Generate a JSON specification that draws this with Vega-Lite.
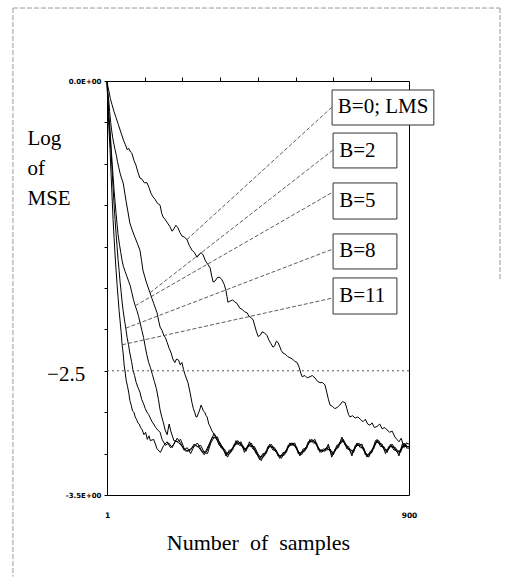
{
"$schema":"https://vega.github.io/schema/vega-lite/v6.json",
"width":302,"height":414,
"autosize":{"type":"none"},
"padding":{"left":107,"top":81,"right":115,"bottom":82},
"background":"white",
"config":{"view":{"stroke":"black","strokeWidth":1},"font":"Liberation Serif"},
"datasets":{
"curves":[
{"s":"B11","x":1,"y":0},{"s":"B11","x":4,"y":-0.25},{"s":"B11","x":7,"y":-0.42},{"s":"B11","x":10,"y":-0.58},{"s":"B11","x":13,"y":-0.78},{"s":"B11","x":16,"y":-0.97},{"s":"B11","x":19,"y":-1.17},{"s":"B11","x":22,"y":-1.32},{"s":"B11","x":25,"y":-1.47},{"s":"B11","x":28,"y":-1.60},{"s":"B11","x":31,"y":-1.72},{"s":"B11","x":34,"y":-1.83},{"s":"B11","x":37,"y":-1.94},{"s":"B11","x":40,"y":-2.03},{"s":"B11","x":43,"y":-2.12},{"s":"B11","x":46,"y":-2.23},{"s":"B11","x":49,"y":-2.30},{"s":"B11","x":52,"y":-2.40},{"s":"B11","x":55,"y":-2.46},{"s":"B11","x":58,"y":-2.53},{"s":"B11","x":62,"y":-2.58},{"s":"B11","x":66,"y":-2.64},{"s":"B11","x":69,"y":-2.70},{"s":"B11","x":73,"y":-2.74},{"s":"B11","x":77,"y":-2.79},{"s":"B11","x":81,"y":-2.80},{"s":"B11","x":85,"y":-2.84},{"s":"B11","x":89,"y":-2.86},{"s":"B11","x":93,"y":-2.89},{"s":"B11","x":97,"y":-2.90},{"s":"B11","x":101,"y":-2.93},{"s":"B11","x":106,"y":-2.95},{"s":"B11","x":111,"y":-2.99},{"s":"B11","x":116,"y":-2.97},{"s":"B11","x":121,"y":-3.03},{"s":"B11","x":126,"y":-3.00},{"s":"B11","x":130,"y":-3.04},
{"s":"B11","x":140,"y":-3.03},{"s":"B11","x":150,"y":-3.11},{"s":"B11","x":160,"y":-3.14},{"s":"B11","x":170,"y":-3.08},{"s":"B11","x":180,"y":-3.05},{"s":"B11","x":190,"y":-3.10},{"s":"B11","x":200,"y":-3.07},{"s":"B11","x":210,"y":-3.02},{"s":"B11","x":220,"y":-3.06},{"s":"B11","x":230,"y":-3.12},{"s":"B11","x":240,"y":-3.10},{"s":"B11","x":250,"y":-3.15},{"s":"B11","x":260,"y":-3.09},{"s":"B11","x":270,"y":-3.06},{"s":"B11","x":280,"y":-3.11},{"s":"B11","x":290,"y":-3.16},{"s":"B11","x":300,"y":-3.12},{"s":"B11","x":310,"y":-3.04},{"s":"B11","x":320,"y":-2.98},{"s":"B11","x":330,"y":-3.03},{"s":"B11","x":340,"y":-3.07},{"s":"B11","x":350,"y":-3.13},{"s":"B11","x":360,"y":-3.18},{"s":"B11","x":370,"y":-3.12},{"s":"B11","x":380,"y":-3.09},{"s":"B11","x":390,"y":-3.04},{"s":"B11","x":400,"y":-3.07},{"s":"B11","x":410,"y":-3.12},{"s":"B11","x":420,"y":-3.10},{"s":"B11","x":430,"y":-3.06},{"s":"B11","x":440,"y":-3.11},{"s":"B11","x":450,"y":-3.17},{"s":"B11","x":460,"y":-3.21},{"s":"B11","x":470,"y":-3.15},{"s":"B11","x":480,"y":-3.11},{"s":"B11","x":490,"y":-3.07},{"s":"B11","x":500,"y":-3.12},{"s":"B11","x":510,"y":-3.15},{"s":"B11","x":520,"y":-3.19},{"s":"B11","x":530,"y":-3.14},{"s":"B11","x":540,"y":-3.10},{"s":"B11","x":550,"y":-3.06},{"s":"B11","x":560,"y":-3.08},{"s":"B11","x":570,"y":-3.13},{"s":"B11","x":580,"y":-3.16},{"s":"B11","x":590,"y":-3.11},{"s":"B11","x":600,"y":-3.07},{"s":"B11","x":610,"y":-3.03},{"s":"B11","x":620,"y":-3.05},{"s":"B11","x":630,"y":-3.10},{"s":"B11","x":640,"y":-3.14},{"s":"B11","x":650,"y":-3.11},{"s":"B11","x":660,"y":-3.09},{"s":"B11","x":670,"y":-3.16},{"s":"B11","x":680,"y":-3.13},{"s":"B11","x":690,"y":-3.08},{"s":"B11","x":700,"y":-3.03},{"s":"B11","x":710,"y":-3.06},{"s":"B11","x":720,"y":-3.11},{"s":"B11","x":730,"y":-3.15},{"s":"B11","x":740,"y":-3.10},{"s":"B11","x":750,"y":-3.06},{"s":"B11","x":760,"y":-3.09},{"s":"B11","x":770,"y":-3.14},{"s":"B11","x":780,"y":-3.18},{"s":"B11","x":790,"y":-3.12},{"s":"B11","x":800,"y":-3.06},{"s":"B11","x":810,"y":-3.04},{"s":"B11","x":820,"y":-3.09},{"s":"B11","x":830,"y":-3.13},{"s":"B11","x":840,"y":-3.11},{"s":"B11","x":850,"y":-3.07},{"s":"B11","x":860,"y":-3.12},{"s":"B11","x":870,"y":-3.15},{"s":"B11","x":880,"y":-3.09},{"s":"B11","x":890,"y":-3.07},{"s":"B11","x":900,"y":-3.11},
{"s":"B8","x":1,"y":0},{"s":"B8","x":3,"y":-0.14},{"s":"B8","x":6,"y":-0.30},{"s":"B8","x":9,"y":-0.43},{"s":"B8","x":13,"y":-0.58},{"s":"B8","x":16,"y":-0.75},{"s":"B8","x":19,"y":-0.90},{"s":"B8","x":22,"y":-1.04},{"s":"B8","x":25,"y":-1.17},{"s":"B8","x":28,"y":-1.29},{"s":"B8","x":31,"y":-1.40},{"s":"B8","x":34,"y":-1.51},{"s":"B8","x":37,"y":-1.60},{"s":"B8","x":40,"y":-1.70},{"s":"B8","x":43,"y":-1.78},{"s":"B8","x":46,"y":-1.87},{"s":"B8","x":49,"y":-1.94},{"s":"B8","x":53,"y":-2.02},{"s":"B8","x":57,"y":-2.09},{"s":"B8","x":61,"y":-2.17},{"s":"B8","x":65,"y":-2.23},{"s":"B8","x":69,"y":-2.30},{"s":"B8","x":74,"y":-2.37},{"s":"B8","x":78,"y":-2.44},{"s":"B8","x":83,"y":-2.49},{"s":"B8","x":88,"y":-2.55},{"s":"B8","x":93,"y":-2.59},{"s":"B8","x":99,"y":-2.63},{"s":"B8","x":104,"y":-2.69},{"s":"B8","x":110,"y":-2.73},{"s":"B8","x":115,"y":-2.77},{"s":"B8","x":120,"y":-2.80},{"s":"B8","x":125,"y":-2.82},{"s":"B8","x":130,"y":-2.85},{"s":"B8","x":135,"y":-2.88},{"s":"B8","x":140,"y":-2.90},{"s":"B8","x":146,"y":-2.93},{"s":"B8","x":152,"y":-2.95},{"s":"B8","x":159,"y":-2.97},
{"s":"B8","x":165,"y":-3.03},{"s":"B8","x":175,"y":-3.08},{"s":"B8","x":185,"y":-3.06},{"s":"B8","x":195,"y":-3.10},{"s":"B8","x":205,"y":-3.04},{"s":"B8","x":215,"y":-3.06},{"s":"B8","x":225,"y":-3.09},{"s":"B8","x":235,"y":-3.13},{"s":"B8","x":245,"y":-3.12},{"s":"B8","x":255,"y":-3.10},{"s":"B8","x":265,"y":-3.08},{"s":"B8","x":275,"y":-3.10},{"s":"B8","x":285,"y":-3.14},{"s":"B8","x":295,"y":-3.13},{"s":"B8","x":305,"y":-3.07},{"s":"B8","x":315,"y":-3.01},{"s":"B8","x":325,"y":-3.02},{"s":"B8","x":335,"y":-3.06},{"s":"B8","x":345,"y":-3.11},{"s":"B8","x":355,"y":-3.15},{"s":"B8","x":365,"y":-3.14},{"s":"B8","x":375,"y":-3.10},{"s":"B8","x":385,"y":-3.06},{"s":"B8","x":395,"y":-3.06},{"s":"B8","x":405,"y":-3.10},{"s":"B8","x":415,"y":-3.11},{"s":"B8","x":425,"y":-3.07},{"s":"B8","x":435,"y":-3.09},{"s":"B8","x":445,"y":-3.15},{"s":"B8","x":455,"y":-3.18},{"s":"B8","x":465,"y":-3.17},{"s":"B8","x":475,"y":-3.13},{"s":"B8","x":485,"y":-3.09},{"s":"B8","x":495,"y":-3.10},{"s":"B8","x":505,"y":-3.14},{"s":"B8","x":515,"y":-3.17},{"s":"B8","x":525,"y":-3.16},{"s":"B8","x":535,"y":-3.12},{"s":"B8","x":545,"y":-3.08},{"s":"B8","x":555,"y":-3.06},{"s":"B8","x":565,"y":-3.11},{"s":"B8","x":575,"y":-3.15},{"s":"B8","x":585,"y":-3.13},{"s":"B8","x":595,"y":-3.09},{"s":"B8","x":605,"y":-3.05},{"s":"B8","x":615,"y":-3.04},{"s":"B8","x":625,"y":-3.08},{"s":"B8","x":635,"y":-3.12},{"s":"B8","x":645,"y":-3.13},{"s":"B8","x":655,"y":-3.10},{"s":"B8","x":665,"y":-3.13},{"s":"B8","x":675,"y":-3.14},{"s":"B8","x":685,"y":-3.10},{"s":"B8","x":695,"y":-3.05},{"s":"B8","x":705,"y":-3.05},{"s":"B8","x":715,"y":-3.09},{"s":"B8","x":725,"y":-3.13},{"s":"B8","x":735,"y":-3.12},{"s":"B8","x":745,"y":-3.08},{"s":"B8","x":755,"y":-3.08},{"s":"B8","x":765,"y":-3.12},{"s":"B8","x":775,"y":-3.16},{"s":"B8","x":785,"y":-3.15},{"s":"B8","x":795,"y":-3.09},{"s":"B8","x":805,"y":-3.05},{"s":"B8","x":815,"y":-3.07},{"s":"B8","x":825,"y":-3.11},{"s":"B8","x":835,"y":-3.12},{"s":"B8","x":845,"y":-3.09},{"s":"B8","x":855,"y":-3.10},{"s":"B8","x":865,"y":-3.14},{"s":"B8","x":875,"y":-3.12},{"s":"B8","x":885,"y":-3.08},{"s":"B8","x":895,"y":-3.09},
{"s":"B5","x":1,"y":0},{"s":"B5","x":3,"y":-0.10},{"s":"B5","x":6,"y":-0.26},{"s":"B5","x":10,"y":-0.41},{"s":"B5","x":13,"y":-0.55},{"s":"B5","x":16,"y":-0.68},{"s":"B5","x":19,"y":-0.80},{"s":"B5","x":22,"y":-0.92},{"s":"B5","x":25,"y":-1.02},{"s":"B5","x":28,"y":-1.12},{"s":"B5","x":31,"y":-1.21},{"s":"B5","x":34,"y":-1.30},{"s":"B5","x":38,"y":-1.38},{"s":"B5","x":42,"y":-1.45},{"s":"B5","x":46,"y":-1.52},{"s":"B5","x":50,"y":-1.57},{"s":"B5","x":55,"y":-1.61},{"s":"B5","x":60,"y":-1.65},{"s":"B5","x":65,"y":-1.69},{"s":"B5","x":70,"y":-1.73},{"s":"B5","x":75,"y":-1.79},{"s":"B5","x":80,"y":-1.85},{"s":"B5","x":85,"y":-1.90},{"s":"B5","x":90,"y":-1.94},{"s":"B5","x":95,"y":-1.99},{"s":"B5","x":100,"y":-2.05},{"s":"B5","x":105,"y":-2.11},{"s":"B5","x":110,"y":-2.17},{"s":"B5","x":115,"y":-2.25},{"s":"B5","x":120,"y":-2.32},{"s":"B5","x":125,"y":-2.38},{"s":"B5","x":130,"y":-2.42},{"s":"B5","x":136,"y":-2.48},{"s":"B5","x":142,"y":-2.54},{"s":"B5","x":148,"y":-2.60},{"s":"B5","x":154,"y":-2.69},{"s":"B5","x":159,"y":-2.78},{"s":"B5","x":164,"y":-2.84},{"s":"B5","x":169,"y":-2.89},{"s":"B5","x":174,"y":-2.95},{"s":"B5","x":180,"y":-2.99},{"s":"B5","x":186,"y":-2.90},{"s":"B5","x":191,"y":-2.96},
{"s":"B5","x":200,"y":-3.04},{"s":"B5","x":210,"y":-3.05},{"s":"B5","x":220,"y":-3.03},{"s":"B5","x":230,"y":-3.10},{"s":"B5","x":240,"y":-3.13},{"s":"B5","x":250,"y":-3.12},{"s":"B5","x":260,"y":-3.07},{"s":"B5","x":270,"y":-3.09},{"s":"B5","x":280,"y":-3.08},{"s":"B5","x":290,"y":-3.14},{"s":"B5","x":300,"y":-3.15},{"s":"B5","x":310,"y":-3.06},{"s":"B5","x":320,"y":-3.01},{"s":"B5","x":330,"y":-3.01},{"s":"B5","x":340,"y":-3.10},{"s":"B5","x":350,"y":-3.11},{"s":"B5","x":360,"y":-3.16},{"s":"B5","x":370,"y":-3.14},{"s":"B5","x":380,"y":-3.07},{"s":"B5","x":390,"y":-3.07},{"s":"B5","x":400,"y":-3.05},{"s":"B5","x":410,"y":-3.14},{"s":"B5","x":420,"y":-3.08},{"s":"B5","x":430,"y":-3.09},{"s":"B5","x":440,"y":-3.09},{"s":"B5","x":450,"y":-3.15},{"s":"B5","x":460,"y":-3.19},{"s":"B5","x":470,"y":-3.17},{"s":"B5","x":480,"y":-3.09},{"s":"B5","x":490,"y":-3.09},{"s":"B5","x":500,"y":-3.10},{"s":"B5","x":510,"y":-3.17},{"s":"B5","x":520,"y":-3.17},{"s":"B5","x":530,"y":-3.16},{"s":"B5","x":540,"y":-3.08},{"s":"B5","x":550,"y":-3.08},{"s":"B5","x":560,"y":-3.06},{"s":"B5","x":570,"y":-3.15},{"s":"B5","x":580,"y":-3.14},{"s":"B5","x":590,"y":-3.13},{"s":"B5","x":600,"y":-3.05},{"s":"B5","x":610,"y":-3.05},{"s":"B5","x":620,"y":-3.03},{"s":"B5","x":630,"y":-3.12},{"s":"B5","x":640,"y":-3.12},{"s":"B5","x":650,"y":-3.13},{"s":"B5","x":660,"y":-3.07},{"s":"B5","x":670,"y":-3.18},{"s":"B5","x":680,"y":-3.11},{"s":"B5","x":690,"y":-3.10},{"s":"B5","x":700,"y":-3.01},{"s":"B5","x":710,"y":-3.08},{"s":"B5","x":720,"y":-3.09},{"s":"B5","x":730,"y":-3.17},{"s":"B5","x":740,"y":-3.08},{"s":"B5","x":750,"y":-3.08},{"s":"B5","x":760,"y":-3.07},{"s":"B5","x":770,"y":-3.16},{"s":"B5","x":780,"y":-3.16},{"s":"B5","x":790,"y":-3.14},{"s":"B5","x":800,"y":-3.04},{"s":"B5","x":810,"y":-3.06},{"s":"B5","x":820,"y":-3.07},{"s":"B5","x":830,"y":-3.15},{"s":"B5","x":840,"y":-3.09},{"s":"B5","x":850,"y":-3.09},{"s":"B5","x":860,"y":-3.10},{"s":"B5","x":870,"y":-3.17},{"s":"B5","x":880,"y":-3.07},{"s":"B5","x":890,"y":-3.09},{"s":"B5","x":900,"y":-3.09},
{"s":"B2","x":1,"y":0},{"s":"B2","x":3,"y":-0.08},{"s":"B2","x":6,"y":-0.16},{"s":"B2","x":9,"y":-0.26},{"s":"B2","x":12,"y":-0.35},{"s":"B2","x":15,"y":-0.42},{"s":"B2","x":18,"y":-0.48},{"s":"B2","x":22,"y":-0.54},{"s":"B2","x":25,"y":-0.58},{"s":"B2","x":29,"y":-0.63},{"s":"B2","x":32,"y":-0.68},{"s":"B2","x":36,"y":-0.73},{"s":"B2","x":40,"y":-0.78},{"s":"B2","x":44,"y":-0.82},{"s":"B2","x":49,"y":-0.86},{"s":"B2","x":53,"y":-0.93},{"s":"B2","x":58,"y":-1.02},{"s":"B2","x":63,"y":-1.10},{"s":"B2","x":69,"y":-1.20},{"s":"B2","x":76,"y":-1.26},{"s":"B2","x":84,"y":-1.32},{"s":"B2","x":91,"y":-1.37},{"s":"B2","x":99,"y":-1.43},{"s":"B2","x":104,"y":-1.52},{"s":"B2","x":108,"y":-1.60},{"s":"B2","x":113,"y":-1.65},{"s":"B2","x":118,"y":-1.70},{"s":"B2","x":124,"y":-1.75},{"s":"B2","x":129,"y":-1.79},{"s":"B2","x":135,"y":-1.84},{"s":"B2","x":140,"y":-1.88},{"s":"B2","x":145,"y":-1.92},{"s":"B2","x":150,"y":-1.96},{"s":"B2","x":155,"y":-2.03},{"s":"B2","x":159,"y":-2.08},{"s":"B2","x":165,"y":-2.11},{"s":"B2","x":170,"y":-2.15},{"s":"B2","x":175,"y":-2.17},{"s":"B2","x":180,"y":-2.21},{"s":"B2","x":186,"y":-2.26},{"s":"B2","x":192,"y":-2.30},{"s":"B2","x":197,"y":-2.35},{"s":"B2","x":203,"y":-2.38},{"s":"B2","x":208,"y":-2.35},{"s":"B2","x":214,"y":-2.36},{"s":"B2","x":219,"y":-2.40},{"s":"B2","x":224,"y":-2.38},{"s":"B2","x":229,"y":-2.44},{"s":"B2","x":233,"y":-2.48},{"s":"B2","x":238,"y":-2.52},{"s":"B2","x":242,"y":-2.55},{"s":"B2","x":248,"y":-2.63},{"s":"B2","x":254,"y":-2.72},{"s":"B2","x":258,"y":-2.77},{"s":"B2","x":262,"y":-2.80},{"s":"B2","x":266,"y":-2.84},{"s":"B2","x":269,"y":-2.84},{"s":"B2","x":273,"y":-2.81},{"s":"B2","x":277,"y":-2.78},{"s":"B2","x":281,"y":-2.74},{"s":"B2","x":284,"y":-2.76},{"s":"B2","x":288,"y":-2.79},{"s":"B2","x":292,"y":-2.80},{"s":"B2","x":296,"y":-2.83},{"s":"B2","x":299,"y":-2.84},{"s":"B2","x":304,"y":-2.90},{"s":"B2","x":308,"y":-2.92},{"s":"B2","x":312,"y":-2.95},{"s":"B2","x":316,"y":-2.97},{"s":"B2","x":320,"y":-2.99},
{"s":"B2","x":325,"y":-3.01},{"s":"B2","x":335,"y":-3.08},{"s":"B2","x":345,"y":-3.09},{"s":"B2","x":355,"y":-3.17},{"s":"B2","x":365,"y":-3.12},{"s":"B2","x":375,"y":-3.12},{"s":"B2","x":385,"y":-3.04},{"s":"B2","x":395,"y":-3.08},{"s":"B2","x":405,"y":-3.08},{"s":"B2","x":415,"y":-3.13},{"s":"B2","x":425,"y":-3.05},{"s":"B2","x":435,"y":-3.11},{"s":"B2","x":445,"y":-3.13},{"s":"B2","x":455,"y":-3.20},{"s":"B2","x":465,"y":-3.15},{"s":"B2","x":475,"y":-3.15},{"s":"B2","x":485,"y":-3.07},{"s":"B2","x":495,"y":-3.12},{"s":"B2","x":505,"y":-3.12},{"s":"B2","x":515,"y":-3.19},{"s":"B2","x":525,"y":-3.14},{"s":"B2","x":535,"y":-3.14},{"s":"B2","x":545,"y":-3.06},{"s":"B2","x":555,"y":-3.08},{"s":"B2","x":565,"y":-3.09},{"s":"B2","x":575,"y":-3.17},{"s":"B2","x":585,"y":-3.11},{"s":"B2","x":595,"y":-3.11},{"s":"B2","x":605,"y":-3.03},{"s":"B2","x":615,"y":-3.06},{"s":"B2","x":625,"y":-3.06},{"s":"B2","x":635,"y":-3.14},{"s":"B2","x":645,"y":-3.11},{"s":"B2","x":655,"y":-3.12},{"s":"B2","x":665,"y":-3.11},{"s":"B2","x":675,"y":-3.16},{"s":"B2","x":685,"y":-3.08},{"s":"B2","x":695,"y":-3.07},{"s":"B2","x":705,"y":-3.03},{"s":"B2","x":715,"y":-3.11},{"s":"B2","x":725,"y":-3.11},{"s":"B2","x":735,"y":-3.14},{"s":"B2","x":745,"y":-3.06},{"s":"B2","x":755,"y":-3.10},{"s":"B2","x":765,"y":-3.10},{"s":"B2","x":775,"y":-3.18},{"s":"B2","x":785,"y":-3.13},{"s":"B2","x":795,"y":-3.11},{"s":"B2","x":805,"y":-3.03},{"s":"B2","x":815,"y":-3.09},{"s":"B2","x":825,"y":-3.09},{"s":"B2","x":835,"y":-3.14},{"s":"B2","x":845,"y":-3.07},{"s":"B2","x":855,"y":-3.12},{"s":"B2","x":865,"y":-3.12},{"s":"B2","x":875,"y":-3.14},{"s":"B2","x":885,"y":-3.06},{"s":"B2","x":895,"y":-3.11},
{"s":"B0","x":1,"y":0},{"s":"B0","x":4,"y":-0.05},{"s":"B0","x":7,"y":-0.09},{"s":"B0","x":11,"y":-0.15},{"s":"B0","x":16,"y":-0.20},{"s":"B0","x":22,"y":-0.26},{"s":"B0","x":28,"y":-0.31},{"s":"B0","x":35,"y":-0.37},{"s":"B0","x":43,"y":-0.44},{"s":"B0","x":50,"y":-0.50},{"s":"B0","x":56,"y":-0.54},{"s":"B0","x":61,"y":-0.58},{"s":"B0","x":66,"y":-0.57},{"s":"B0","x":71,"y":-0.60},{"s":"B0","x":75,"y":-0.61},{"s":"B0","x":81,"y":-0.67},{"s":"B0","x":87,"y":-0.71},{"s":"B0","x":93,"y":-0.77},{"s":"B0","x":99,"y":-0.82},{"s":"B0","x":105,"y":-0.83},{"s":"B0","x":112,"y":-0.86},{"s":"B0","x":120,"y":-0.86},{"s":"B0","x":126,"y":-0.90},{"s":"B0","x":132,"y":-0.95},{"s":"B0","x":138,"y":-0.98},{"s":"B0","x":144,"y":-1.00},{"s":"B0","x":150,"y":-1.03},{"s":"B0","x":159,"y":-1.05},{"s":"B0","x":164,"y":-1.12},{"s":"B0","x":168,"y":-1.15},{"s":"B0","x":174,"y":-1.17},{"s":"B0","x":181,"y":-1.20},{"s":"B0","x":188,"y":-1.23},{"s":"B0","x":195,"y":-1.27},{"s":"B0","x":200,"y":-1.25},{"s":"B0","x":206,"y":-1.22},{"s":"B0","x":212,"y":-1.24},{"s":"B0","x":218,"y":-1.28},{"s":"B0","x":224,"y":-1.31},{"s":"B0","x":231,"y":-1.32},{"s":"B0","x":239,"y":-1.34},{"s":"B0","x":246,"y":-1.39},{"s":"B0","x":254,"y":-1.43},{"s":"B0","x":261,"y":-1.45},{"s":"B0","x":269,"y":-1.49},{"s":"B0","x":275,"y":-1.47},{"s":"B0","x":281,"y":-1.45},{"s":"B0","x":287,"y":-1.47},{"s":"B0","x":294,"y":-1.52},{"s":"B0","x":301,"y":-1.55},{"s":"B0","x":308,"y":-1.58},{"s":"B0","x":312,"y":-1.64},{"s":"B0","x":317,"y":-1.70},{"s":"B0","x":323,"y":-1.69},{"s":"B0","x":330,"y":-1.66},{"s":"B0","x":337,"y":-1.66},{"s":"B0","x":343,"y":-1.68},{"s":"B0","x":350,"y":-1.72},{"s":"B0","x":355,"y":-1.77},{"s":"B0","x":358,"y":-1.82},{"s":"B0","x":361,"y":-1.87},{"s":"B0","x":368,"y":-1.86},{"s":"B0","x":375,"y":-1.85},{"s":"B0","x":382,"y":-1.87},{"s":"B0","x":388,"y":-1.88},{"s":"B0","x":396,"y":-1.92},{"s":"B0","x":403,"y":-1.93},{"s":"B0","x":410,"y":-1.95},{"s":"B0","x":418,"y":-1.96},{"s":"B0","x":424,"y":-1.99},{"s":"B0","x":430,"y":-2.00},{"s":"B0","x":436,"y":-2.02},{"s":"B0","x":441,"y":-2.07},{"s":"B0","x":446,"y":-2.12},{"s":"B0","x":451,"y":-2.16},{"s":"B0","x":457,"y":-2.15},{"s":"B0","x":463,"y":-2.12},{"s":"B0","x":470,"y":-2.13},{"s":"B0","x":477,"y":-2.15},{"s":"B0","x":483,"y":-2.19},{"s":"B0","x":489,"y":-2.22},{"s":"B0","x":495,"y":-2.25},{"s":"B0","x":500,"y":-2.24},{"s":"B0","x":505,"y":-2.20},{"s":"B0","x":510,"y":-2.21},{"s":"B0","x":516,"y":-2.25},{"s":"B0","x":520,"y":-2.28},{"s":"B0","x":525,"y":-2.30},{"s":"B0","x":532,"y":-2.31},{"s":"B0","x":539,"y":-2.33},{"s":"B0","x":546,"y":-2.34},{"s":"B0","x":553,"y":-2.35},{"s":"B0","x":560,"y":-2.37},{"s":"B0","x":567,"y":-2.38},{"s":"B0","x":573,"y":-2.42},{"s":"B0","x":578,"y":-2.47},{"s":"B0","x":582,"y":-2.50},{"s":"B0","x":590,"y":-2.49},{"s":"B0","x":597,"y":-2.51},{"s":"B0","x":605,"y":-2.50},{"s":"B0","x":612,"y":-2.49},{"s":"B0","x":620,"y":-2.51},{"s":"B0","x":628,"y":-2.54},{"s":"B0","x":635,"y":-2.55},{"s":"B0","x":643,"y":-2.55},{"s":"B0","x":650,"y":-2.57},{"s":"B0","x":655,"y":-2.63},{"s":"B0","x":660,"y":-2.69},{"s":"B0","x":665,"y":-2.74},{"s":"B0","x":672,"y":-2.75},{"s":"B0","x":679,"y":-2.77},{"s":"B0","x":686,"y":-2.76},{"s":"B0","x":694,"y":-2.74},{"s":"B0","x":702,"y":-2.71},{"s":"B0","x":710,"y":-2.72},{"s":"B0","x":715,"y":-2.77},{"s":"B0","x":720,"y":-2.82},{"s":"B0","x":724,"y":-2.84},{"s":"B0","x":732,"y":-2.83},{"s":"B0","x":740,"y":-2.85},{"s":"B0","x":748,"y":-2.84},{"s":"B0","x":755,"y":-2.86},{"s":"B0","x":763,"y":-2.88},{"s":"B0","x":770,"y":-2.86},{"s":"B0","x":777,"y":-2.90},{"s":"B0","x":784,"y":-2.91},{"s":"B0","x":790,"y":-2.89},{"s":"B0","x":797,"y":-2.93},{"s":"B0","x":805,"y":-2.92},{"s":"B0","x":813,"y":-2.90},{"s":"B0","x":820,"y":-2.94},{"s":"B0","x":828,"y":-2.93},{"s":"B0","x":835,"y":-2.95},{"s":"B0","x":842,"y":-2.97},{"s":"B0","x":850,"y":-2.96},{"s":"B0","x":858,"y":-3.01},{"s":"B0","x":864,"y":-3.03},{"s":"B0","x":870,"y":-3.05},{"s":"B0","x":877,"y":-3.02},{"s":"B0","x":885,"y":-3.10},{"s":"B0","x":892,"y":-3.06},{"s":"B0","x":900,"y":-3.07}
],
"leaders":[
{"s":"B0","x":671,"y":-0.22},{"s":"B0","x":239,"y":-1.34},
{"s":"B2","x":674,"y":-0.583},{"s":"B2","x":129,"y":-1.79},
{"s":"B5","x":674,"y":-0.938},{"s":"B5","x":85,"y":-1.90},
{"s":"B8","x":674,"y":-1.42},{"s":"B8","x":57,"y":-2.09},
{"s":"B11","x":674,"y":-1.834},{"s":"B11","x":46,"y":-2.23}
],
"boxes":[
{"label":"B=0; LMS","x":671,"x2":974,"y":-0.076,"y2":-0.372,"tx":688,"ty":-0.224},
{"label":"B=2","x":674,"x2":864,"y":-0.44,"y2":-0.735,"tx":692,"ty":-0.588},
{"label":"B=5","x":674,"x2":864,"y":-0.862,"y2":-1.167,"tx":692,"ty":-1.015},
{"label":"B=8","x":674,"x2":864,"y":-1.293,"y2":-1.589,"tx":692,"ty":-1.441},
{"label":"B=11","x":674,"x2":864,"y":-1.665,"y2":-1.97,"tx":692,"ty":-1.818}
],
"frame":[
{"x":-279,"x2":-279,"y":0.617,"y2":-4.19},
{"x":-279,"x2":1171,"y":0.617,"y2":0.617},
{"x":1171,"x2":1171,"y":0.617,"y2":-1.68}
],
"notes":[{"x":-64,"y":-2.485,"t":"−2.5"}]
},
"resolve":{"axis":{"x":"independent"}},
"layer":[
{"data":{"name":"curves"},
 "mark":{"type":"line","color":"black","strokeWidth":1},
 "encoding":{
  "x":{"field":"x","type":"quantitative","scale":{"domain":[1,900],"nice":false,"zero":false},
   "axis":{"values":[1,900],"ticks":false,"domain":false,"grid":false,"labelFont":"DejaVu Sans","labelFontSize":7.5,"labelFontWeight":"bold","labelColor":"black","labelPadding":16,"labelFlush":false,"title":"Number\u00a0\u00a0of\u00a0\u00a0samples","titleFont":"Liberation Serif","titleFontSize":22,"titleFontWeight":"normal","titleColor":"black","titleY":54,"titleBaseline":"alphabetic"}},
  "y":{"field":"y","type":"quantitative","scale":{"domain":[-3.5,0],"nice":false,"zero":false},
   "axis":{"values":[0,-0.35,-0.7,-1.05,-1.4,-1.75,-2.1,-2.45,-2.8,-3.15,-3.5],"labelExpr":"datum.value > -0.01 ? '0.0E+00' : (datum.value < -3.49 ? '-3.5E+00' : '')","grid":false,"domain":true,"domainColor":"black","tickColor":"black","tickSize":3,"labelFont":"DejaVu Sans","labelFontSize":7,"labelFontWeight":"bold","labelColor":"black","labelPadding":3,"labelOverlap":false,"title":["Log","of","MSE"],"titleFont":"Liberation Serif","titleFontSize":21,"titleFontWeight":"normal","titleColor":"black","titleAngle":0,"titleAlign":"left","titleBaseline":"alphabetic","titleX":-80,"titleY":63,"titleLineHeight":30}},
  "detail":{"field":"s"}
 }},
{"data":{"values":[{}]},
 "mark":{"type":"rule","color":"#555","strokeDash":[2,3],"strokeWidth":1},
 "encoding":{"y":{"datum":-2.45}}},
{"data":{"name":"frame"},
 "mark":{"type":"rule","color":"#999","strokeDash":[5,2],"strokeWidth":1},
 "encoding":{
  "x":{"field":"x","type":"quantitative","axis":null},"x2":{"field":"x2"},
  "y":{"field":"y","type":"quantitative"},"y2":{"field":"y2"}}},
{"data":{"name":"leaders"},
 "mark":{"type":"line","color":"#333","strokeWidth":0.8,"strokeDash":[4,2]},
 "encoding":{
  "x":{"field":"x","type":"quantitative","axis":{"orient":"top","values":[113,225,338,450,563,675,788],"labels":false,"ticks":true,"tickSize":4,"tickColor":"black","domain":false,"grid":false,"title":null}},
  "y":{"field":"y","type":"quantitative"},
  "detail":{"field":"s"}}},
{"data":{"name":"boxes"},
 "mark":{"type":"rect","fill":"white","stroke":"#333","strokeWidth":1},
 "encoding":{
  "x":{"field":"x","type":"quantitative","axis":null},"x2":{"field":"x2"},
  "y":{"field":"y","type":"quantitative"},"y2":{"field":"y2"}}},
{"data":{"name":"boxes"},
 "mark":{"type":"text","align":"left","baseline":"middle","font":"Liberation Serif","fontSize":21,"color":"black"},
 "encoding":{
  "x":{"field":"tx","type":"quantitative","axis":null},
  "y":{"field":"ty","type":"quantitative"},
  "text":{"field":"label"}}},
{"data":{"name":"notes"},
 "mark":{"type":"text","align":"right","baseline":"middle","font":"Liberation Serif","fontSize":21,"color":"black"},
 "encoding":{
  "x":{"field":"x","type":"quantitative","axis":null},
  "y":{"field":"y","type":"quantitative"},
  "text":{"field":"t"}}}
]
}
